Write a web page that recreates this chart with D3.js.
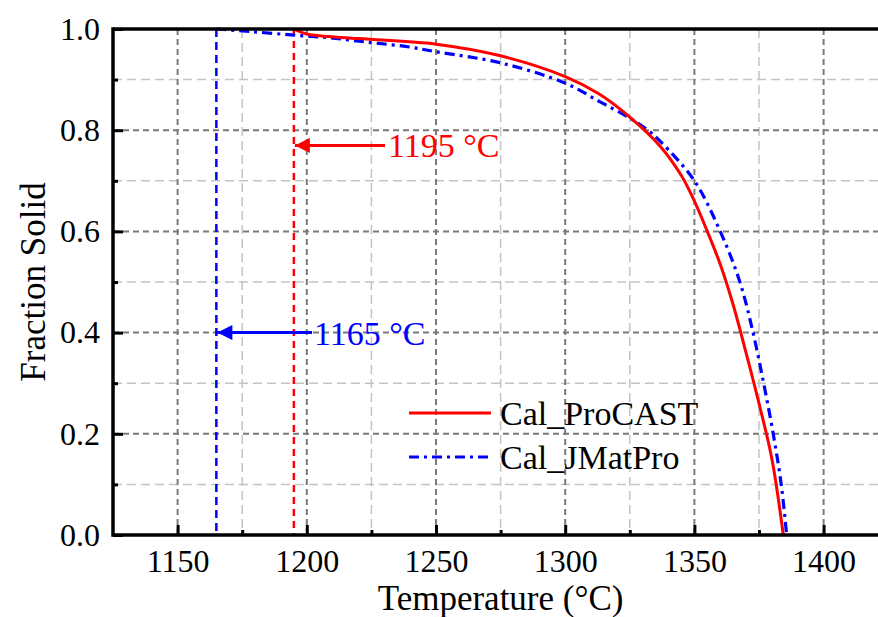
<!DOCTYPE html>
<html>
<head>
<meta charset="utf-8">
<script src="https://cdn.jsdelivr.net/npm/d3@7"></script>
<style>
  html, body { margin: 0; padding: 0; background: #fff; }
  svg { display: block; font-family: "Liberation Serif", "Times New Roman", serif; }
</style>
</head>
<body>
<div id="chart"></div>
<script>
(function () {
  'use strict';

  // ProCAST curve (temperature, fraction solid)
  var procastT = [1195, 1200, 1220, 1250, 1275, 1300, 1313, 1325, 1337, 1345, 1350, 1355, 1360, 1365, 1370, 1375, 1380, 1384.4];
  var procastFs = [1.0, 0.99, 0.981, 0.970, 0.947, 0.906, 0.872, 0.826, 0.767, 0.71, 0.66, 0.60, 0.535, 0.455, 0.36, 0.26, 0.15, 0.0];

  // JMatPro curve
  var jmatT = [1165, 1178, 1195, 1210, 1225, 1239, 1250, 1275, 1300, 1313.5, 1325, 1332, 1337, 1350, 1360, 1367.6, 1372.7, 1376.8, 1380.5, 1383.6, 1385.7];
  var jmatFs = [1.0, 0.995, 0.988, 0.982, 0.973, 0.965, 0.955, 0.933, 0.893, 0.856, 0.824, 0.80, 0.777, 0.70, 0.60, 0.50, 0.40, 0.30, 0.20, 0.10, 0.0];

  var xTicks = [1150, 1200, 1250, 1300, 1350, 1400];
  var xMinor = [1175, 1225, 1275, 1325, 1375];
  var yTicks = [0.0, 0.2, 0.4, 0.6, 0.8, 1.0];
  var yMinor = [0.1, 0.3, 0.5, 0.7, 0.9];

  var solidusProcast = 1195, solidusJmat = 1165;
  var seriesNames = ['Cal_ProCAST', 'Cal_JMatPro'];

  var width = 878, height = 617;
  var left = 113, top = 29, bottom = 535;

  var x = d3.scaleLinear().domain([1125, 1425]).range([left, left + 300 * 2.584]);
  var y = d3.scaleLinear().domain([0, 1]).range([bottom, top]);

  var svg = d3.select('#chart').append('svg').attr('width', width).attr('height', height);

  // grid — minor light, major dark
  svg.selectAll('line.vminor').data(xMinor).enter().append('line')
    .attr('x1', function (d) { return x(d); }).attr('x2', function (d) { return x(d); })
    .attr('y1', top).attr('y2', bottom)
    .attr('stroke', '#c4c4c4').attr('stroke-width', 1.5).attr('stroke-dasharray', '9,5');
  svg.selectAll('line.hminor').data(yMinor).enter().append('line')
    .attr('x1', left).attr('x2', width)
    .attr('y1', function (d) { return y(d); }).attr('y2', function (d) { return y(d); })
    .attr('stroke', '#c4c4c4').attr('stroke-width', 1.5).attr('stroke-dasharray', '9,5');
  svg.selectAll('line.vmajor').data(xTicks).enter().append('line')
    .attr('x1', function (d) { return x(d); }).attr('x2', function (d) { return x(d); })
    .attr('y1', top).attr('y2', bottom)
    .attr('stroke', '#7a7a7a').attr('stroke-width', 2).attr('stroke-dasharray', '6,4');
  svg.selectAll('line.hmajor').data(yTicks.slice(1, 5)).enter().append('line')
    .attr('x1', left).attr('x2', width)
    .attr('y1', function (d) { return y(d); }).attr('y2', function (d) { return y(d); })
    .attr('stroke', '#7a7a7a').attr('stroke-width', 2).attr('stroke-dasharray', '6,4');

  // solidus markers
  svg.append('line').attr('x1', x(solidusJmat)).attr('x2', x(solidusJmat))
    .attr('y1', y(1)).attr('y2', y(0))
    .attr('stroke', '#0000ff').attr('stroke-width', 2.5).attr('stroke-dasharray', '8,5');
  svg.append('line').attr('x1', x(solidusProcast)).attr('x2', x(solidusProcast))
    .attr('y1', y(1)).attr('y2', y(0))
    .attr('stroke', '#ff0000').attr('stroke-width', 2.5).attr('stroke-dasharray', '7,5');

  // curves
  var line = d3.line()
    .x(function (d) { return x(d[0]); })
    .y(function (d) { return y(d[1]); })
    .curve(d3.curveCatmullRom.alpha(0.5));

  var jmat = jmatT.map(function (t, i) { return [t, jmatFs[i]]; });
  var procast = procastT.map(function (t, i) { return [t, procastFs[i]]; });

  svg.append('path').datum(jmat).attr('d', line)
    .attr('fill', 'none').attr('stroke', '#0000ff').attr('stroke-width', 3.2)
    .attr('stroke-dasharray', '10,5,3,5');
  svg.append('path').datum(procast).attr('d', line)
    .attr('fill', 'none').attr('stroke', '#ff0000').attr('stroke-width', 3);

  // annotation arrows
  var defs = svg.append('defs');
  [['arrRed', '#ff0000'], ['arrBlue', '#0000ff']].forEach(function (m) {
    defs.append('marker').attr('id', m[0])
      .attr('viewBox', '0 0 10 10').attr('refX', 10).attr('refY', 5)
      .attr('markerWidth', 8.5).attr('markerHeight', 5).attr('markerUnits', 'strokeWidth')
      .attr('orient', 'auto')
      .append('path').attr('d', 'M0,0 L10,5 L0,10 Z').attr('fill', m[1]);
  });

  svg.append('line').attr('x1', 385).attr('x2', x(solidusProcast) + 1)
    .attr('y1', y(0.77)).attr('y2', y(0.77))
    .attr('stroke', '#ff0000').attr('stroke-width', 3).attr('marker-end', 'url(#arrRed)');
  svg.append('text').attr('x', 388).attr('y', y(0.77) + 12)
    .attr('fill', '#ff0000').attr('font-size', 34).text(solidusProcast + ' \u00b0C');

  svg.append('line').attr('x1', 312).attr('x2', x(solidusJmat) + 1)
    .attr('y1', y(0.4)).attr('y2', y(0.4))
    .attr('stroke', '#0000ff').attr('stroke-width', 3).attr('marker-end', 'url(#arrBlue)');
  svg.append('text').attr('x', 314).attr('y', y(0.4) + 12)
    .attr('fill', '#0000ff').attr('font-size', 34).text(solidusJmat + ' \u00b0C');

  // legend
  var legend = svg.append('g');
  legend.append('line').attr('x1', 409).attr('x2', 491).attr('y1', 413).attr('y2', 413)
    .attr('stroke', '#ff0000').attr('stroke-width', 3);
  legend.append('text').attr('x', 500).attr('y', 425).attr('font-size', 34)
    .attr('fill', '#000').text(seriesNames[0]);
  legend.append('line').attr('x1', 409).attr('x2', 491).attr('y1', 457).attr('y2', 457)
    .attr('stroke', '#0000ff').attr('stroke-width', 3.2).attr('stroke-dasharray', '10,5,3,5');
  legend.append('text').attr('x', 500).attr('y', 469).attr('font-size', 34)
    .attr('fill', '#000').text(seriesNames[1]);

  // axes — ticks point inward
  var xAxis = svg.append('g').attr('transform', 'translate(0,' + bottom + ')')
    .call(d3.axisBottom(x).tickValues(xTicks).tickSizeInner(-10).tickSizeOuter(0)
      .tickFormat(d3.format('d')));
  svg.append('g').attr('transform', 'translate(0,' + bottom + ')')
    .call(d3.axisBottom(x).tickValues(xMinor).tickSizeInner(-5).tickSizeOuter(0).tickFormat(''));

  var yAxis = svg.append('g').attr('transform', 'translate(' + left + ',0)')
    .call(d3.axisLeft(y).tickValues(yTicks).tickSizeInner(-10).tickSizeOuter(0)
      .tickFormat(d3.format('.1f')));
  svg.append('g').attr('transform', 'translate(' + left + ',0)')
    .call(d3.axisLeft(y).tickValues(yMinor).tickSizeInner(-5).tickSizeOuter(0).tickFormat(''));

  svg.selectAll('.tick line').attr('stroke', '#000').attr('stroke-width', 3);
  svg.selectAll('.tick text').attr('fill', '#000').attr('font-size', 32)
    .attr('font-family', '"Liberation Serif", "Times New Roman", serif');
  xAxis.selectAll('.tick text').attr('dy', '0.71em').attr('y', 14);
  yAxis.selectAll('.tick text').attr('x', -13);
  svg.selectAll('.domain').remove();

  // frame lines
  svg.append('line').attr('x1', left).attr('x2', width).attr('y1', bottom).attr('y2', bottom)
    .attr('stroke', '#000').attr('stroke-width', 3.5);
  svg.append('line').attr('x1', left).attr('x2', width).attr('y1', top).attr('y2', top)
    .attr('stroke', '#000').attr('stroke-width', 3.5);
  svg.append('line').attr('x1', left).attr('x2', left).attr('y1', top - 1.75).attr('y2', bottom + 1.75)
    .attr('stroke', '#000').attr('stroke-width', 3.5);

  // axis titles
  svg.append('text').attr('x', (x(1125) + x(1425)) / 2).attr('y', 610)
    .attr('text-anchor', 'middle').attr('font-size', 35).text('Temperature (\u00b0C)');
  svg.append('text').attr('transform', 'translate(45,' + ((top + bottom) / 2) + ') rotate(-90)')
    .attr('text-anchor', 'middle').attr('font-size', 35).text('Fraction Solid');
})();
</script>
</body>
</html>
